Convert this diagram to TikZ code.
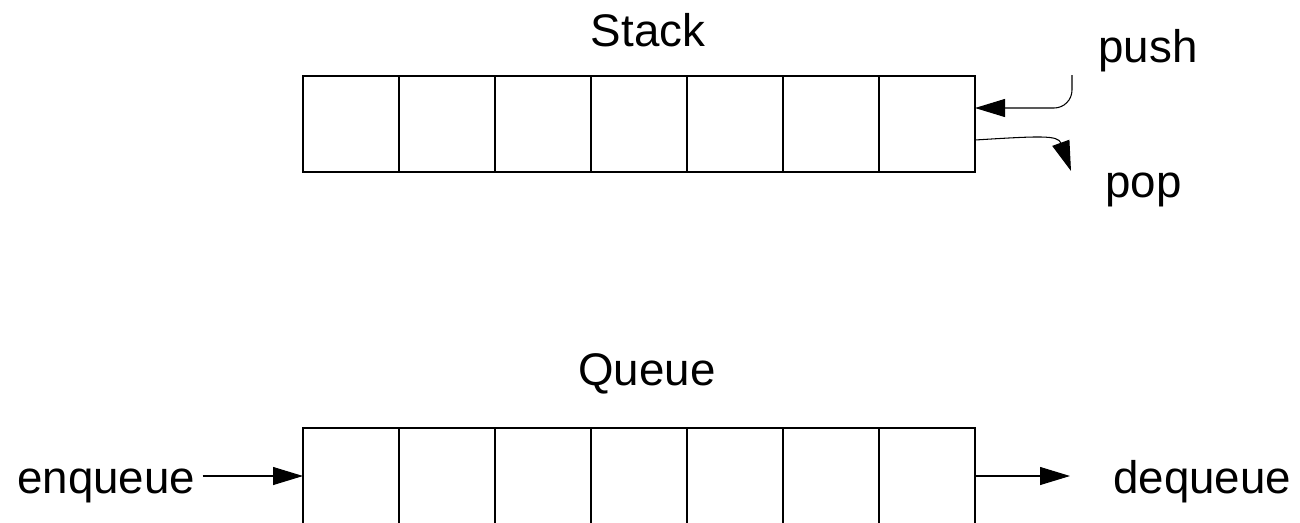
\documentclass[tikz,border=0pt]{standalone}
\usepackage{fontspec}
\setmainfont{Liberation Sans}
\usetikzlibrary{arrows.meta}
\begin{document}
\begin{tikzpicture}[
  cell/.style={draw, line width=0.6pt, minimum width=1.92cm, minimum height=1.92cm, inner sep=0pt, outer sep=0pt},
  lbl/.style={inner sep=0pt, font=\fontsize{26}{30}\selectfont},
  arr/.style={line width=0.6pt, -{Triangle[length=0.6cm, width=0.36cm]}}
]
\useasboundingbox (0,0) rectangle (26,-10.44);
% stack and queue cells
\foreach \i in {1,...,7} {
  \node[cell] (s\i) at ({7.02+1.92*(\i-1)},-2.48) {};
  \node[cell] (q\i) at ({7.02+1.92*(\i-1)},-9.52) {};
}
% labels
\node[lbl, anchor=base] (stack) at (12.96,-0.92) {Stack};
\node[lbl, anchor=base] (queue) at (12.94,-7.7) {Queue};
\node[lbl, anchor=base west] (push) at (21.96,-1.24) {push};
\node[lbl, anchor=base west] (pop) at (22.1,-3.94) {pop};
\node[lbl, anchor=base west] (enqueue) at (0.34,-9.86) {enqueue};
\node[lbl, anchor=base west] (dequeue) at (22.26,-9.86) {dequeue};
% free ends
\coordinate (pushstart) at (21.44,-1.5);
\coordinate (popend) at (21.42,-3.42);
\coordinate (deqend) at (21.4,-9.52);
% connectors
\draw[arr, rounded corners=0.36cm] (pushstart) |- ([yshift=0.32cm]s7.east);
\draw[arr] ([yshift=-0.32cm]s7.east) .. controls (20.8,-2.72) and (21.16,-2.7) .. (popend);
\draw[arr] ([xshift=0.14cm]enqueue.east |- q1.west) -- (q1.west);
\draw[arr] (q7.east) -- (deqend);
\end{tikzpicture}
\end{document}
